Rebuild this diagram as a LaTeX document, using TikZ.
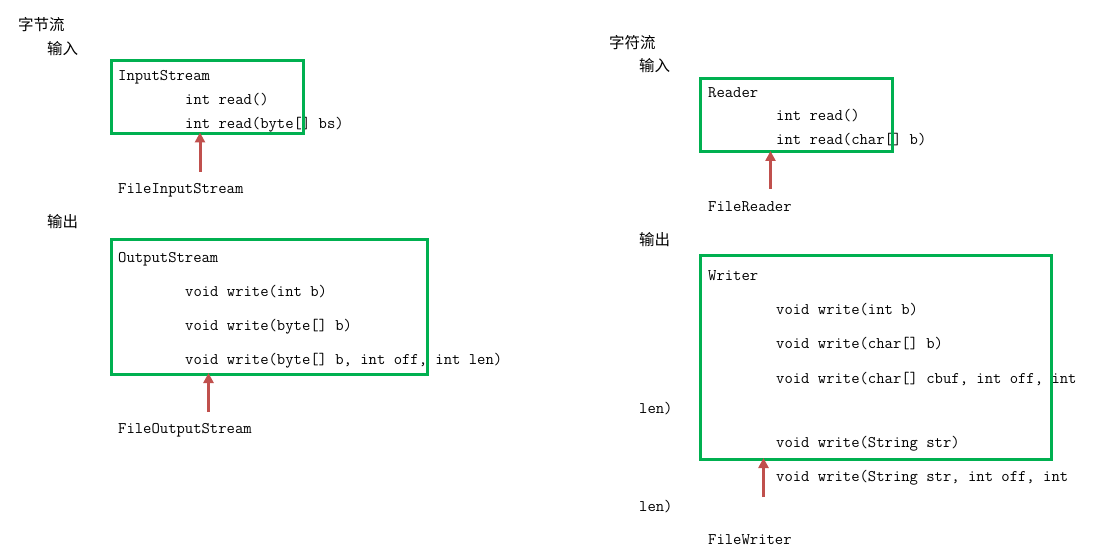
\documentclass[tikz,border=0pt]{standalone}
\usepackage{fontspec}
\newfontfamily\cjkfont{Noto Sans CJK SC}
\newfontfamily\codefont{Latin Modern Mono}
\usetikzlibrary{arrows.meta}

\definecolor{boxgreen}{RGB}{0,176,80}
\definecolor{arrowred}{RGB}{192,80,77}

\tikzset{
  code/.style={anchor=base west, inner sep=0pt, font=\codefont\fontsize{16.2}{18}\selectfont},
  head/.style={anchor=west, inner sep=0pt, font=\cjkfont\fontsize{15.5}{18}\selectfont},
  classbox/.style={draw=boxgreen, line width=3pt, anchor=north west, inner sep=0pt, outer sep=0pt},
  inherit/.style={draw=arrowred, line width=3pt, shorten >=-1pt, -{Triangle[length=10pt,width=10pt]}}
}

\begin{document}
\begin{tikzpicture}[x=1pt, y=-1pt]
\useasboundingbox (0,0) rectangle (1103,548);
\def\ind{185}
\def\rind{776}

% byte streams
\node[head] (byteTitle) at (18,25) {字节流};
\node[head] (byteIn) at (47,49) {输入};
\node[code] (isName) at (118,81) {InputStream};
\node[code] (isRead) at (\ind,105) {int read()};
\node[code] (isReadArr) at (\ind,129) {int read(byte[] bs)};
\node[code] (fis) at (118,194) {FileInputStream};

\node[head] (byteOut) at (47,222) {输出};
\node[code] (osName) at (118,262) {OutputStream};
\node[code] (osWrite) at (\ind,296) {void write(int b)};
\node[code] (osWriteArr) at (\ind,330) {void write(byte[] b)};
\node[code] (osWriteOff) at (\ind,364) {void write(byte[] b, int off, int len)};
\node[code] (fos) at (118,433) {FileOutputStream};

% char streams
\node[head] (charTitle) at (609,43) {字符流};
\node[head] (charIn) at (639,66) {输入};
\node[code] (rdName) at (708,98) {Reader};
\node[code] (rdRead) at (\rind,121) {int read()};
\node[code] (rdReadArr) at (\rind,145) {int read(char[] b)};
\node[code] (frd) at (708,212) {FileReader};

\node[head] (charOut) at (639,240) {输出};
\node[code] (wrName) at (708,280) {Writer};
\node[code] (wrWrite) at (\rind,314) {void write(int b)};
\node[code] (wrWriteArr) at (\rind,348) {void write(char[] b)};
\node[code] (wrWriteOff) at (\rind,383) {void write(char[] cbuf, int off, int};
\node[code] (wrWriteOffB) at (639,413) {len)};
\node[code] (wrWriteStr) at (\rind,447) {void write(String str)};
\node[code] (wrWriteStrOff) at (\rind,481) {void write(String str, int off, int};
\node[code] (wrWriteStrOffB) at (639,511) {len)};
\node[code] (fwr) at (708,544) {FileWriter};

% boxes on top of the text
\node[classbox, minimum width=192pt, minimum height=73pt] (inBox) at (111.5,60.5) {};
\node[classbox, minimum width=316pt, minimum height=134pt] (outBox) at (111,240) {};
\node[classbox, minimum width=192pt, minimum height=73pt] (rdBox) at (700,79) {};
\node[classbox, minimum width=351pt, minimum height=204pt] (wrBox) at (700,255) {};

\coordinate (fisTail) at (200,172);
\coordinate (fosTail) at (208.5,412);
\coordinate (frdTail) at (770.5,189);
\coordinate (fwrTail) at (763.5,497);

\draw[inherit] (fisTail) -- (fisTail |- inBox.south);
\draw[inherit] (fosTail) -- (fosTail |- outBox.south);
\draw[inherit] (frdTail) -- (frdTail |- rdBox.south);
\draw[inherit] (fwrTail) -- (fwrTail |- wrBox.south);
\end{tikzpicture}
\end{document}
